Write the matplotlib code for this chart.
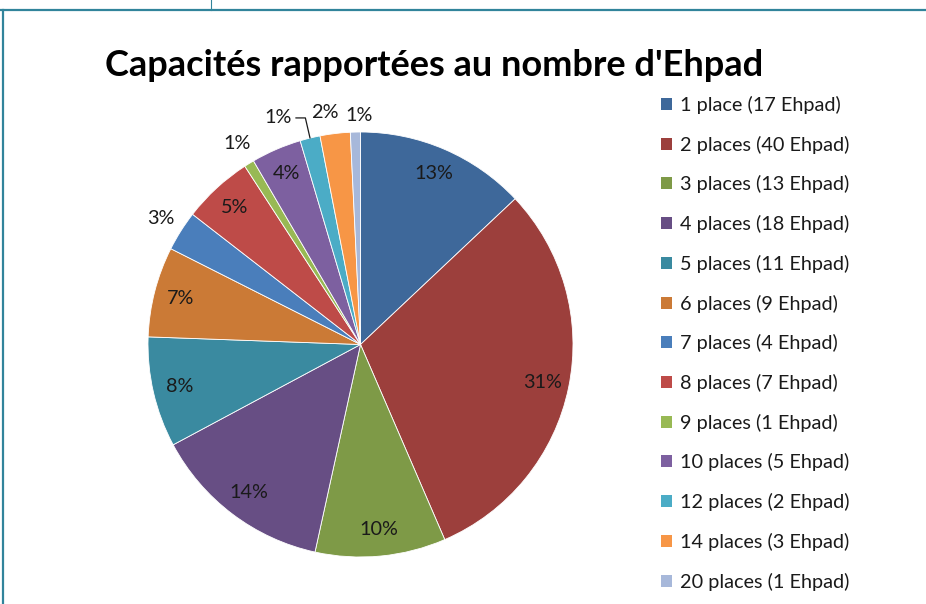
import numpy as np
import matplotlib
matplotlib.use("Agg")
import matplotlib.pyplot as plt
from matplotlib.patches import Rectangle
from matplotlib.lines import Line2D

plt.rcParams["font.family"] = ["Lato", "DejaVu Sans"]

# data
places = ["1 place", "2 places", "3 places", "4 places", "5 places", "6 places",
          "7 places", "8 places", "9 places", "10 places", "12 places",
          "14 places", "20 places"]
ehpad = [17, 40, 13, 18, 11, 9, 4, 7, 1, 5, 2, 3, 1]
pct_labels = ["13%", "31%", "10%", "14%", "8%", "7%", "3%", "5%", "1%",
              "4%", "1%", "2%", "1%"]
colors = ["#3E689A", "#9C3F3C", "#7E9A47", "#674E84", "#3A8AA0", "#CB7A36",
          "#4A7EBB", "#BE4B48", "#98B954", "#7D60A0", "#4BACC6", "#F79646",
          "#A7B8DA"]

title = "Capacités rapportées au nombre d'Ehpad"
legend_labels = [f"{p} ({n} Ehpad)" for p, n in zip(places, ehpad)]

W, H = 926, 604
fig = plt.figure(figsize=(W / 100, H / 100), dpi=100)

# pie axes: centre (360.5, 344.5) px, radius 212.5 px
R = 212.5
cx, cy = 360.5, 344.5
ax = fig.add_axes([(cx - R) / W, (H - cy - R) / H, 2 * R / W, 2 * R / H])

wedges, _ = ax.pie(
    ehpad,
    colors=colors,
    startangle=90,
    counterclock=False,
    radius=1,
    wedgeprops=dict(edgecolor="white", linewidth=0.6),
)
ax.set_xlim(-1, 1)
ax.set_ylim(-1, 1)
ax.axis("off")

lab_size = 14.3
txt_col = "#1a1a1a"
# small nudges so the outside labels do not overlap (like excel)
nudge = {11: (-0.035, -0.01), 12: (0.02, -0.03)}

# percentage labels: inside for the big slices, outside for the small ones
for i, w in enumerate(wedges):
    mid = np.deg2rad((w.theta1 + w.theta2) / 2)
    if ehpad[i] > 4:
        r = 0.875
        ax.text(r * np.cos(mid), r * np.sin(mid), pct_labels[i],
                ha="center", va="center", fontsize=lab_size, color=txt_col)
    elif places[i] == "12 places":
        r = 1.11
        ax.annotate(pct_labels[i],
                    xy=(np.cos(mid), np.sin(mid)),
                    xytext=(r * np.cos(mid) - 0.125, r * np.sin(mid) - 0.012),
                    ha="center", va="center", fontsize=lab_size, color=txt_col,
                    annotation_clip=False,
                    arrowprops=dict(arrowstyle="-", color=txt_col, lw=0.9,
                                    shrinkA=1, shrinkB=0,
                                    connectionstyle="angle,angleA=0,angleB=103,rad=0"))
    else:
        r = 1.11
        dx, dy = nudge.get(i, (0, 0))
        ax.text(r * np.cos(mid) + dx, r * np.sin(mid) + dy, pct_labels[i],
                ha="center", va="center", fontsize=lab_size, color=txt_col,
                clip_on=False)

fig.text(434.5 / W, 1 - 65 / H, title, ha="center", va="center",
         fontsize=26, fontweight="bold", color="black")

handles = [Rectangle((0, 0), 1, 1, facecolor=c, edgecolor="none") for c in colors]
fig.legend(handles, legend_labels, loc="upper left",
           bbox_to_anchor=(661 / W, 1 - 96 / H), frameon=False,
           fontsize=lab_size, handlelength=0.55, handleheight=0.55,
           handletextpad=0.4, labelspacing=1.09, borderpad=0,
           borderaxespad=0, labelcolor=txt_col)

# frame lines of the surrounding sheet
frame = "#31849B"
fig.add_artist(Line2D([0, 1], [1 - 9.5 / H, 1 - 9.5 / H],
                      transform=fig.transFigure, color=frame, lw=1.6))
fig.add_artist(Line2D([2.5 / W, 2.5 / W], [0, 1 - 9.5 / H],
                      transform=fig.transFigure, color=frame, lw=1.6))
fig.add_artist(Line2D([210.5 / W, 210.5 / W], [1 - 9.5 / H, 1],
                      transform=fig.transFigure, color=frame, lw=0.8))

fig.savefig("out.png", dpi=100)
